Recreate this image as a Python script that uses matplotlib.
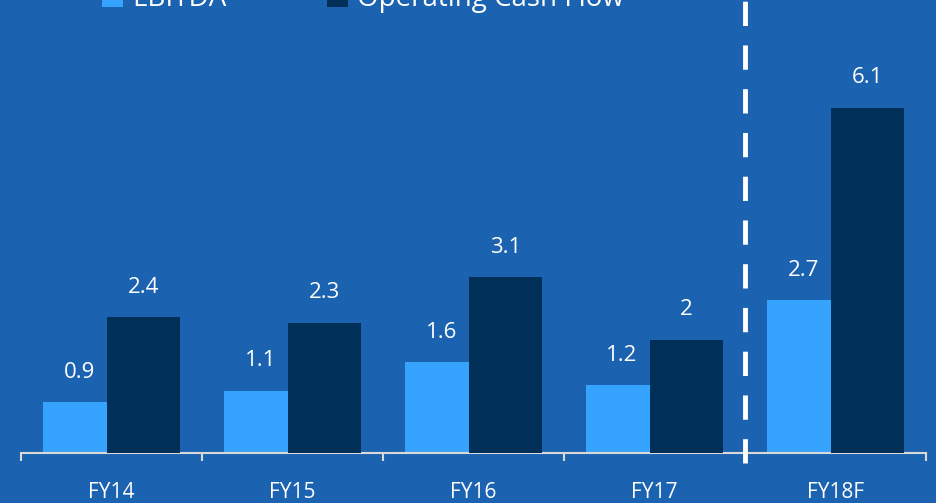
import matplotlib
matplotlib.use("Agg")
import matplotlib.pyplot as plt
import numpy as np

categories = ["FY14", "FY15", "FY16", "FY17", "FY18F"]
ebitda = [0.9, 1.1, 1.6, 1.2, 2.7]
ocf = [2.4, 2.3, 3.1, 2.0, 6.1]
ebitda_labels = ["0.9", "1.1", "1.6", "1.2", "2.7"]
ocf_labels = ["2.4", "2.3", "3.1", "2", "6.1"]

BG = "#1B62B0"
LIGHT = "#36A3FF"
DARK = "#003057"

plt.rcParams["font.family"] = ["Open Sans", "DejaVu Sans"]

fig = plt.figure(figsize=(9.37, 5.03), dpi=100, facecolor=BG)
ax = fig.add_axes([0.0224, 0.0994, 0.9656, 0.9006])
ax.set_facecolor(BG)

x = np.arange(len(categories))
w = 0.403
b1 = ax.bar(x - 0.178, ebitda, w, color=LIGHT, label="EBITDA", zorder=2)
b2 = ax.bar(x + 0.178, ocf, w, color=DARK, label="Operating Cash Flow", zorder=3)

for rect, lab in zip(b1, ebitda_labels):
    ax.annotate(lab, (rect.get_x() + rect.get_width() / 2, rect.get_height()),
                xytext=(0, 14), textcoords="offset points", ha="center", va="bottom",
                color="white", fontsize=16)
for rect, lab in zip(b2, ocf_labels):
    ax.annotate(lab, (rect.get_x() + rect.get_width() / 2, rect.get_height()),
                xytext=(0, 14), textcoords="offset points", ha="center", va="bottom",
                color="white", fontsize=16)

ax.set_xlim(-0.5, 4.5)
ax.set_ylim(0, 8.0)
ax.set_yticks([])
for s in ["top", "right", "left"]:
    ax.spines[s].set_visible(False)
ax.spines["bottom"].set_color("#D9D9D9")
ax.spines["bottom"].set_linewidth(1.5)

# category boundary ticks
ax.set_xticks(np.arange(-0.5, 5.0, 1.0))
ax.set_xticklabels([])
ax.tick_params(axis="x", length=6, width=1.5, color="#D9D9D9")
ax.set_xticks(x, minor=True)
ax.set_xticklabels(categories, minor=True, color="white", fontsize=15)
ax.tick_params(axis="x", which="minor", length=0, pad=21)

# forecast divider
ax.plot([3.5, 3.5], [-0.17, 8.0], color="white", lw=3.5, linestyle=(0, (5, 4)),
        clip_on=False, zorder=4)

# legend sits partly above the top edge, as in the source slide
ax.legend(handles=[b1, b2], loc="upper left", bbox_to_anchor=(0.062, 1.088),
          ncol=2, frameon=False, fontsize=20, labelcolor="white",
          handlelength=0.75, handleheight=0.75, handletextpad=0.35, columnspacing=3.6)

fig.savefig("out.png", dpi=100, facecolor=BG)
